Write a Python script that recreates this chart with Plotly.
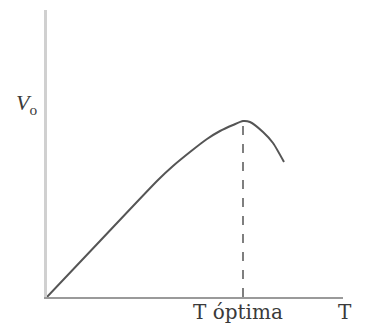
import plotly.graph_objects as go

# Reaction rate vs temperature curve (arbitrary units)
temperature = [0, 53, 111, 126, 143, 160, 173, 186, 196, 203, 216, 226, 237]
rate = [0, 56, 117, 131, 145, 158, 166, 172, 176, 175, 165, 154, 135]

t_opt = 196
v_max = 176

x_labels = ["T óptima", "T"]
y_label = "<i>V</i><sub>o</sub>"

serif = "DejaVu Serif, Liberation Serif, serif"
times = "Liberation Serif, Times New Roman, serif"
ink = "#3a3a3a"

fig = go.Figure()

fig.add_trace(go.Scatter(
    x=temperature, y=rate, mode="lines",
    line=dict(color="#555555", width=2, shape="spline", smoothing=0.6),
    hoverinfo="skip", showlegend=False,
))

fig.add_trace(go.Scatter(
    x=[t_opt, t_opt], y=[0, v_max], mode="lines",
    line=dict(color="#555555", width=1.5, dash="dash"),
    hoverinfo="skip", showlegend=False,
))

fig.add_annotation(
    x=t_opt, xref="x", y=0, yref="paper", yanchor="top", xanchor="center",
    yshift=-1, xshift=-5, text=x_labels[0], showarrow=False,
    font=dict(family=serif, size=20, color=ink),
)
fig.add_annotation(
    x=1, xref="paper", y=0, yref="paper", yanchor="top", xanchor="center",
    yshift=-1, xshift=2, text=x_labels[1], showarrow=False,
    font=dict(family=serif, size=20, color=ink),
)
fig.add_annotation(
    x=0, xref="paper", y=193, yref="y", xanchor="right", yanchor="middle",
    xshift=-8, text=y_label, showarrow=False,
    font=dict(family=times, size=22, color=ink),
)

fig.update_layout(
    width=367, height=324,
    margin=dict(l=47, r=24, t=10, b=27),
    paper_bgcolor="white", plot_bgcolor="white",
    xaxis=dict(range=[0, 296], showgrid=False, zeroline=False,
               showticklabels=False, ticks="", showline=True,
               linecolor="#9a9a9a", linewidth=2),
    yaxis=dict(range=[0, 287], showgrid=False, zeroline=False,
               showticklabels=False, ticks="", showline=True,
               linecolor="#d0d0d0", linewidth=3),
)

fig.write_html("out.html")
